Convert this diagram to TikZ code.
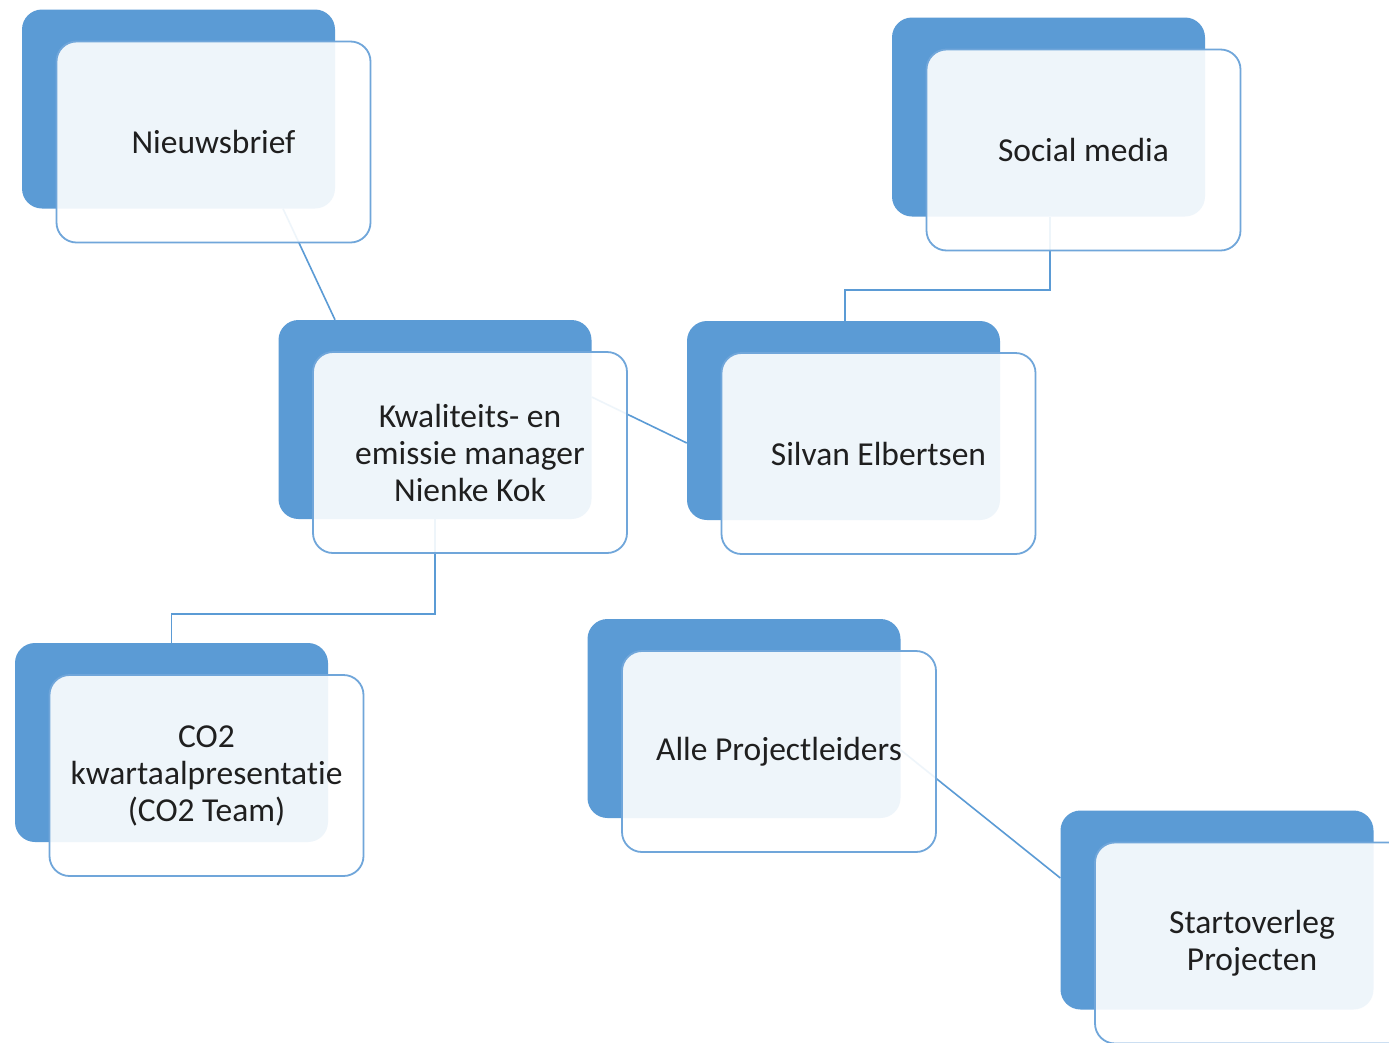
\documentclass[tikz,border=0pt]{standalone}
\usepackage{fontspec}
\setmainfont[Ligatures=NoCommon]{Carlito}
\usetikzlibrary{calc}
\definecolor{cBlue}{HTML}{5B9BD5}
\definecolor{cLine}{HTML}{70A6DA}
\definecolor{cConn}{HTML}{5B9BD5}
\tikzset{
  backbox/.style={draw=none, fill=cBlue, rounded corners=20pt, minimum width=313pt, minimum height=199pt, inner sep=0pt},
  frontbox/.style={draw=cLine, line width=1.8pt, fill=white, fill opacity=0.9, text opacity=1, rounded corners=20pt,
    minimum width=314pt, minimum height=201pt, inner sep=0pt, align=center, text=black!88,
    font=\fontsize{33.5}{37}\selectfont},
  conn/.style={draw=cConn, line width=1.6pt}
}
\begin{document}
\begin{tikzpicture}[x=1pt,y=-1pt]
\useasboundingbox (0,0) rectangle (1389,1042);
\clip (0,0) rectangle (1389,1042);
\fill[white] (0,0) rectangle (1389,1042);
% back boxes
\node[backbox] (nbb) at (178.5,109) {};
\node[backbox] (kwb) at (435,419.5) {};
\node[backbox] (svb) at (843.5,420.5) {};
\node[backbox] (smb) at (1048.5,117) {};
\node[backbox] (cob) at (171.5,742.5) {};
\node[backbox] (apb) at (744,718.5) {};
\node[backbox] (stb) at (1217,910) {};
% connectors
\draw[conn] ([xshift=104.5pt]nbb.south) -- ([xshift=-100pt]kwb.north);
\draw[conn] ([yshift=22.5pt]kwb.east) -- ([yshift=-22.5pt]svb.west);
\draw[conn] ([xshift=1.5pt]smb.south) |- ([xshift=1.5pt,yshift=31pt]svb.north) -- ([xshift=1.5pt]svb.north);
\draw[conn] (kwb.south) |- ([yshift=29pt]cob.north) -- (cob.north);
\draw[conn] ([yshift=-31.5pt]apb.east) -- ([yshift=32pt]stb.west);
% front boxes
\node[frontbox] (nb) at ($(nbb)+(35,33)$) {Nieuwsbrief};
\node[frontbox] (kw) at ($(kwb)+(35,33)$) {Kwaliteits- en\\emissie manager\\Nienke Kok};
\node[frontbox] (sv) at ($(svb)+(35,33)$) {Silvan Elbertsen};
\node[frontbox] (sm) at ($(smb)+(35,33)$) {Social media};
\node[frontbox] (co) at ($(cob)+(35,33)$) {CO2\\kwartaalpresentatie\\(CO2 Team)};
\node[frontbox] (ap) at ($(apb)+(35,33)$) {Alle Projectleiders};
\node[frontbox] (st) at ($(stb)+(35,33)$) {Startoverleg\\Projecten};
\end{tikzpicture}
\end{document}
